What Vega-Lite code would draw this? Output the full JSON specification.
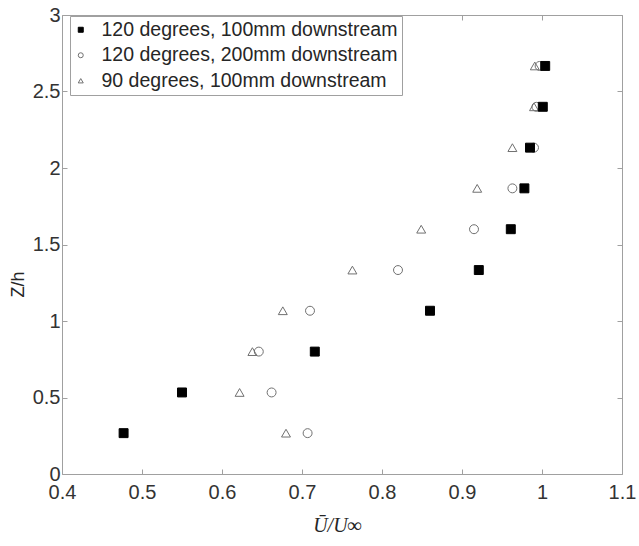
{
  "$schema": "https://vega.github.io/schema/vega-lite/v6.json",
  "width": 560,
  "height": 459,
  "autosize": {"type": "none"},
  "padding": {"left": 62, "top": 15, "right": 17, "bottom": 72},
  "background": "white",
  "config": {"view": {"stroke": null}, "font": "Liberation Sans"},
  "data": {
    "values": [
      {"series": "120 degrees, 200mm downstream", "u": 0.707, "z": 0.267},
      {"series": "120 degrees, 200mm downstream", "u": 0.662, "z": 0.533},
      {"series": "120 degrees, 200mm downstream", "u": 0.646, "z": 0.8},
      {"series": "120 degrees, 200mm downstream", "u": 0.710, "z": 1.067},
      {"series": "120 degrees, 200mm downstream", "u": 0.820, "z": 1.333},
      {"series": "120 degrees, 200mm downstream", "u": 0.915, "z": 1.6},
      {"series": "120 degrees, 200mm downstream", "u": 0.963, "z": 1.867},
      {"series": "120 degrees, 200mm downstream", "u": 0.990, "z": 2.133},
      {"series": "120 degrees, 200mm downstream", "u": 0.993, "z": 2.4},
      {"series": "120 degrees, 200mm downstream", "u": 0.997, "z": 2.667},
      {"series": "90 degrees, 100mm downstream", "u": 0.680, "z": 0.267},
      {"series": "90 degrees, 100mm downstream", "u": 0.622, "z": 0.533},
      {"series": "90 degrees, 100mm downstream", "u": 0.638, "z": 0.8},
      {"series": "90 degrees, 100mm downstream", "u": 0.676, "z": 1.067},
      {"series": "90 degrees, 100mm downstream", "u": 0.763, "z": 1.333},
      {"series": "90 degrees, 100mm downstream", "u": 0.849, "z": 1.6},
      {"series": "90 degrees, 100mm downstream", "u": 0.919, "z": 1.867},
      {"series": "90 degrees, 100mm downstream", "u": 0.963, "z": 2.133},
      {"series": "90 degrees, 100mm downstream", "u": 0.990, "z": 2.4},
      {"series": "90 degrees, 100mm downstream", "u": 0.991, "z": 2.667},
      {"series": "120 degrees, 100mm downstream", "u": 0.477, "z": 0.267},
      {"series": "120 degrees, 100mm downstream", "u": 0.550, "z": 0.533},
      {"series": "120 degrees, 100mm downstream", "u": 0.716, "z": 0.8},
      {"series": "120 degrees, 100mm downstream", "u": 0.860, "z": 1.067},
      {"series": "120 degrees, 100mm downstream", "u": 0.921, "z": 1.333},
      {"series": "120 degrees, 100mm downstream", "u": 0.961, "z": 1.6},
      {"series": "120 degrees, 100mm downstream", "u": 0.978, "z": 1.867},
      {"series": "120 degrees, 100mm downstream", "u": 0.985, "z": 2.133},
      {"series": "120 degrees, 100mm downstream", "u": 1.001, "z": 2.4},
      {"series": "120 degrees, 100mm downstream", "u": 1.004, "z": 2.667}
    ]
  },
  "layer": [
    {
      "mark": {"type": "point", "filled": true, "opacity": 1, "strokeWidth": 1, "size": 80},
      "encoding": {
        "x": {
          "field": "u", "type": "quantitative",
          "scale": {"domain": [0.4, 1.1], "nice": false, "zero": false},
          "axis": {
            "values": [0.4, 0.5, 0.6, 0.7, 0.8, 0.9, 1, 1.1],
            "format": "~g",
            "grid": false,
            "tickSize": -5,
            "tickColor": "#a0a0a0",
            "domainColor": "#a0a0a0",
            "labelFontSize": 20,
            "labelColor": "#333333",
            "labelPadding": 13,
            "labelFlush": false,
            "title": "Ū/U∞",
            "titleFont": "Liberation Serif",
            "titleFontStyle": "italic",
            "titleFontWeight": "normal",
            "titleFontSize": 20,
            "titleColor": "#262626",
            "titleX": 275,
            "titleY": 57,
            "titleBaseline": "alphabetic"
          }
        },
        "y": {
          "field": "z", "type": "quantitative",
          "scale": {"domain": [0, 3], "nice": false},
          "axis": {
            "values": [0, 0.5, 1, 1.5, 2, 2.5, 3],
            "format": "~g",
            "grid": false,
            "tickSize": -5,
            "tickColor": "#a0a0a0",
            "domainColor": "#a0a0a0",
            "labelFontSize": 20,
            "labelColor": "#333333",
            "labelPadding": 7,
            "labelFlush": false,
            "title": "Z/h",
            "titleFontWeight": "normal",
            "titleFontSize": 18,
            "titleColor": "#262626",
            "titleX": -44,
            "titleY": 269,
            "titleAlign": "center",
            "titleBaseline": "middle"
          }
        },
        "shape": {
          "field": "series", "type": "nominal",
          "scale": {
            "domain": ["120 degrees, 100mm downstream", "120 degrees, 200mm downstream", "90 degrees, 100mm downstream"],
            "range": ["square", "circle", "triangle-up"]
          },
          "legend": {
            "orient": "none",
            "legendX": 8,
            "legendY": 1,
            "title": null,
            "labelFontSize": 19.5,
            "labelColor": "#262626",
            "labelLimit": 400,
            "strokeColor": "#a0a0a0",
            "fillColor": "white",
            "padding": 4,
            "symbolOffset": -3,
            "labelOffset": 11,
            "rowPadding": 4.5,
            "symbolSize": 25,
            "symbolStrokeWidth": 1
          }
        },
        "fill": {
          "field": "series", "type": "nominal",
          "scale": {
            "domain": ["120 degrees, 100mm downstream", "120 degrees, 200mm downstream", "90 degrees, 100mm downstream"],
            "range": ["#000000", "transparent", "transparent"]
          }
        },
        "stroke": {
          "field": "series", "type": "nominal",
          "scale": {
            "domain": ["120 degrees, 100mm downstream", "120 degrees, 200mm downstream", "90 degrees, 100mm downstream"],
            "range": ["#000000", "#707070", "#707070"]
          }
        }
      }
    },
    {
      "mark": {"type": "point", "opacity": 0},
      "encoding": {
        "x": {
          "field": "u", "type": "quantitative",
          "axis": {
            "orient": "top",
            "values": [0.4, 0.5, 0.6, 0.7, 0.8, 0.9, 1, 1.1],
            "labels": false,
            "grid": false,
            "tickSize": -5,
            "tickColor": "#a0a0a0",
            "domainColor": "#a0a0a0",
            "title": null
          }
        },
        "y": {
          "field": "z", "type": "quantitative",
          "axis": {
            "orient": "right",
            "values": [0, 0.5, 1, 1.5, 2, 2.5, 3],
            "labels": false,
            "grid": false,
            "tickSize": -5,
            "tickColor": "#a0a0a0",
            "domainColor": "#a0a0a0",
            "title": null
          }
        }
      }
    }
  ],
  "resolve": {"axis": {"x": "independent", "y": "independent"}}
}
